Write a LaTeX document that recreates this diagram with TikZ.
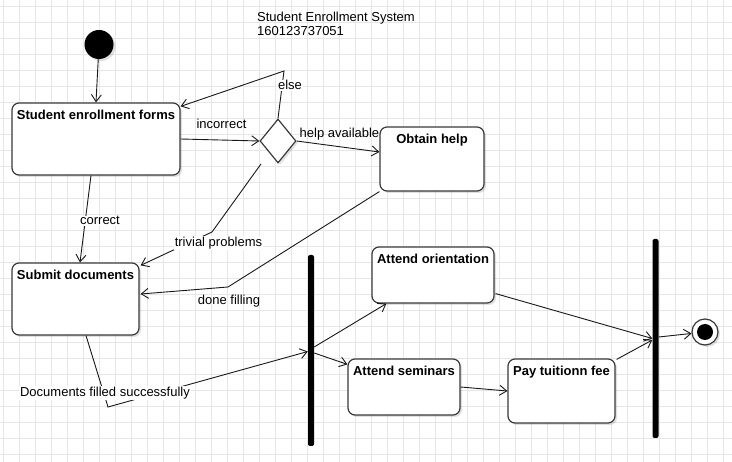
\documentclass[tikz,border=0pt]{standalone}
\usepackage{fontspec}
\setmainfont{Liberation Sans}
\usetikzlibrary{arrows.meta,shapes.geometric,calc,shadows}
\definecolor{gridc}{HTML}{E6E6E6}
\definecolor{boxc}{HTML}{3A3A3A}
\begin{document}
\begin{tikzpicture}[x=1pt,y=-1pt,
  font=\fontsize{13}{15.6}\selectfont,
  shad/.style={drop shadow={shadow xshift=2pt,shadow yshift=-2pt,opacity=0.12,fill=black}},
  box/.style={draw=boxc,line width=1.2pt,rounded corners=7pt,fill=white,inner sep=0,shad},
  boxt/.style={anchor=north,inner sep=0,yshift=-7.5pt,font=\fontsize{13}{15.6}\selectfont\bfseries},
  arr/.style={draw=black!90,line width=0.9pt,-{Straight Barb[length=7pt,width=10pt,line width=0.9pt]}},
  lbl/.style={anchor=base,inner sep=1pt},
  lblw/.style={lbl,fill=white},
  bar/.style={fill=black,draw=none,minimum width=6pt,inner sep=0,rounded corners=2pt}]
\useasboundingbox (0,0) rectangle (732,462);
\fill[white] (0,0) rectangle (732,462);
\foreach \i in {0,...,45} \draw[gridc,line width=1.1pt] ({3.5+16*\i},0) -- ({3.5+16*\i},462);
\foreach \j in {0,...,28} \draw[gridc,line width=1.1pt] (0,{6.7+16*\j}) -- (732,{6.7+16*\j});

% title
\node[anchor=north west,align=left,inner sep=0,font=\fontsize{13}{13.3}\selectfont] (title) at (257,12.3) {Student Enrollment System\\160123737051};

% nodes
\node[circle,fill=black,minimum size=29pt,inner sep=0,shad] (init) at (99,44.5) {};
\node[box,minimum width=168pt,minimum height=72pt,label={[boxt]north:Student enrollment forms}] (forms) at (96,139) {};
\node[diamond,draw=boxc,line width=1.2pt,fill=white,minimum width=36pt,minimum height=44pt,inner sep=0,shad] (dia) at (278,141) {};
\node[box,minimum width=104pt,minimum height=64pt,label={[boxt]north:Obtain help}] (obtain) at (432,159) {};
\node[box,minimum width=127pt,minimum height=72pt,label={[boxt]north:Submit documents}] (submit) at (75.5,299) {};
\node[box,minimum width=122pt,minimum height=56pt,label={[boxt]north:Attend orientation}] (orient) at (433,275) {};
\node[box,minimum width=112pt,minimum height=56pt,label={[boxt]north:Attend seminars}] (seminars) at (404,387) {};
\node[box,minimum width=107pt,minimum height=64pt,label={[boxt]north:Pay tuitionn fee}] (pay) at (561.5,391) {};
\node[bar,minimum height=191pt] (fork) at (311,350.5) {};
\node[bar,minimum height=199pt] (join) at (655.5,338.5) {};
\node[circle,draw=boxc,line width=1.2pt,fill=white,minimum size=26pt,inner sep=0,shad] (final) at (705,332) {};
\node[circle,fill=black,minimum size=16pt,inner sep=0] (finaldot) at (final) {};

% bend points
\coordinate (elseP) at (284,71);
\coordinate (trivS) at (261,164);
\coordinate (trivB) at (212,232);
\coordinate (doneB) at (228,287);
\coordinate (docB) at (108,407);

% connectors
\draw[arr] (init) -- (forms.north);
\draw[arr] (forms.east) -- (dia.west);
\draw[arr] (dia.north) -- (elseP) -- ($(forms.north east)+(0,4)$);
\draw[arr] (dia.east) -- ($(obtain.west)+(0,-7)$);
\draw[arr] (trivS) -- (trivB) -- ($(submit.north east)+(1,3)$);
\draw[arr] (obtain.south west) -- (doneB) -- ($(submit.east)+(1,-5)$);
\draw[arr] ($(forms.south)+(-5,0)$) -- ($(submit.north)+(4.5,0)$);
\draw[arr] ($(submit.south)+(10.5,0)$) -- (docB) -- ($(fork.west)+(0,1)$);
\draw[arr] ($(fork.east)+(0,-3.5)$) -- ($(orient.south west)+(15,0)$);
\draw[arr] ($(fork.east)+(0,2.5)$) -- ($(seminars.north west)+(0,6)$);
\draw[arr] (seminars.east) -- (pay.west);
\draw[arr] ($(pay.north east)+(1,1)$) -- ($(join.west)+(0,1.5)$);
\draw[arr] ($(orient.south east)+(1,-10)$) -- (join.west);
\draw[arr] ($(join.east)+(0,-1.5)$) -- (final);

% labels
\node[lbl] (lincorrect) at (221.5,129) {incorrect};
\node[lblw] (lelse) at (290,90) {else};
\node[lbl] (lhelp) at (339.5,137.5) {help available};
\node[lblw] (ltrivial) at (218.5,246.5) {trivial problems};
\node[lbl] (ldone) at (229,304.5) {done filling};
\node[lblw] (lcorrect) at (100,225) {correct};
\node[lblw] (ldocs) at (105,396.5) {Documents filled successfully};
\end{tikzpicture}
\end{document}
